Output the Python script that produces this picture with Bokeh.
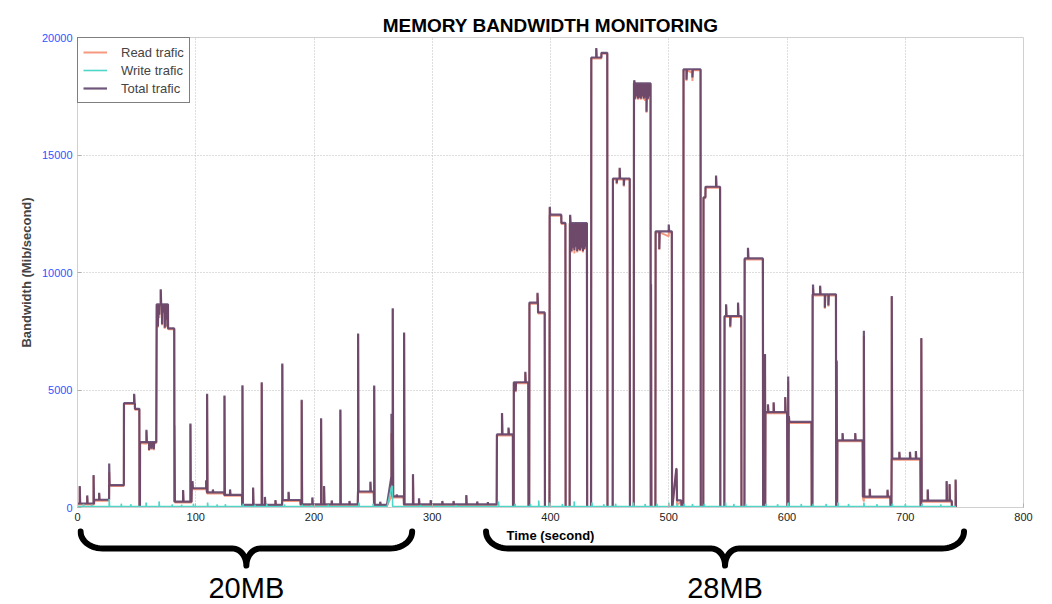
import numpy as np
from bokeh.plotting import figure
from bokeh.layouts import column
from bokeh.models import (Range1d, Legend, LegendItem, FixedTicker)
from bokeh.core.properties import value
from bokeh.embed import file_html
from bokeh.resources import INLINE

# ---------------- data ----------------
X_TICKS = [0, 100, 200, 300, 400, 500, 600, 700, 800]
Y_TICKS = [0, 5000, 10000, 15000, 20000]

# Total traffic plateaus: start (s), end (s), level (Mib/s)
TOTAL_SEG_START = [0, 14, 26.7, 39.3, 48.6, 52.4, 52.9, 67.0, 76.6, 82.0, 96.6, 109.5, 124.2,
                   139.3, 173.1, 188.7, 237.2, 250.8, 265.4, 266.5, 276.1,
                   354.7, 368.3, 369.0, 381.4, 382.2, 389.5, 395.3, 399.3, 409.2, 412.8,
                   416.4, 431.0, 434.5, 443.1, 448.2, 452.8, 467.2, 470.6, 484.8, 488.9,
                   502.8, 506.4, 507.0, 510.8, 512.5, 527.1, 529.4, 531.1, 543.6, 547.2,
                   561.5, 564.2, 579.8, 581.8, 600.3, 601.5, 620.9, 621.7, 641.6, 642.6,
                   664.2, 687.6, 688.5, 713.0, 713.5, 739.5]
TOTAL_SEG_END = [14, 26.7, 39.2, 48.5, 52.3, 52.8, 66.6, 76.5, 81.8, 96.4, 109.3, 124.0, 139.1,
                 173.0, 188.5, 237.0, 250.6, 261.7, 266.3, 275.9, 354.5,
                 368.2, 368.9, 381.2, 382.0, 389.4, 395.1, 399.1, 409.1, 412.6, 416.2,
                 430.8, 434.3, 443.0, 448.0, 452.6, 467.0, 470.4, 484.6, 488.7, 502.6,
                 503.0, 506.6, 510.6, 512.3, 526.9, 529.2, 531.0, 543.4, 547.0, 561.3,
                 564.0, 579.6, 581.6, 600.1, 601.3, 620.7, 621.5, 641.4, 642.4, 664.0,
                 687.4, 688.3, 712.8, 713.3, 739.3, 742.9]
TOTAL_SEG_LEVEL = [170, 330, 950, 4440, 4200, 0, 2780, 8650, 7620, 250, 820, 640, 540,
                   110, 320, 130, 680, 110, 1300, 470, 130,
                   3110, 0, 5330, 0, 8720, 8300, 0, 12460, 12110, 0,
                   12100, 0, 19150, 19350, 0, 14000, 0, 18050, 0, 11750,
                   0, 1650, 300, 0, 18650, 0, 13200, 13650, 0, 8150,
                   0, 10600, 0, 4060, 0, 3640, 0, 9070, 0, 2860,
                   460, 0, 2080, 0, 290, 0]

# Short excursions of total traffic: time (s), value (Mib/s)
TOTAL_SPIKE_T = [1.9, 8.2, 13.6, 18.3, 26.8, 47.9, 58.3, 60.5, 62.5, 64.5,
                 68.0, 69.2, 70.4, 71.5, 72.7, 73.8, 75.0, 76.0, 82.0, 89.3, 95.5,
                 97.2, 108.8, 109.6, 114.5, 124.3, 129.0, 139.5, 148.5, 155.8, 158.5,
                 167.4, 173.2, 178.5, 189.6, 198.6, 206.0, 208.5, 215.0, 222.3, 230.0,
                 237.3, 247.7, 250.9, 256.0, 265.5, 266.6, 270.0, 276.2, 283.7, 288.8,
                 298.7, 308.5, 318.0, 328.8, 338.0, 347.0,
                 359.0, 364.5, 370.5, 378.7, 389.0, 399.4, 416.6, 417.8, 419.0, 420.2,
                 421.4, 422.6, 423.8, 425.0, 426.2, 427.4, 428.6, 429.8, 438.7, 456.0,
                 458.5, 462.0, 470.8, 471.6, 472.8, 474.0, 475.2, 476.4, 477.6, 478.8,
                 480.0, 481.2, 482.4, 483.6, 485.0, 492.0, 500.0, 515.0, 520.0, 540.0,
                 548.5, 552.0, 558.6, 567.0, 581.4, 583.9, 588.7, 598.5, 601.0, 601.6,
                 622.0, 628.0, 632.0, 635.0, 642.0, 647.0, 657.7, 665.0, 670.0, 685.0,
                 688.6, 695.0, 704.0, 709.0, 713.6, 719.0, 735.0, 737.5, 742.6]
TOTAL_SPIKE_V = [910, 515, 1380, 630, 1870, 4840, 3310, 2450, 2500, 2480,
                 7700, 8200, 9290, 7800, 8300, 7650, 8000, 7700, 3500, 740, 3570,
                 1130, 1160, 4840, 770, 4770, 770, 5200, 850, 5330, 450,
                 320, 6130, 670, 4580, 430, 3800, 910, 300, 4170, 280,
                 7400, 1100, 5190, 250, 3990, 8480, 560, 7450, 1420, 390,
                 320, 280, 280, 530, 260, 230,
                 4020, 3400, 4950, 5780, 9140, 12800, 12460, 10900, 11050, 10950,
                 11100, 10900, 11000, 10950, 11050, 10900, 11000, 11100, 19550, 13800,
                 14460, 13700, 18180, 17400, 17500, 17400, 17450, 17400, 17500, 17400,
                 17450, 16840, 17400, 17500, 9500, 11000, 12040, 18200, 18300, 14130,
                 8650, 7700, 8720, 11050, 6530, 4390, 4480, 4700, 5570, 3890,
                 9490, 9440, 8500, 8600, 6250, 3170, 3170, 7520, 800, 760,
                 9000, 2370, 2370, 2400, 7210, 770, 1130, 1000, 1190]

# Write traffic plateaus and bumps
WRITE_SEG_START = [0, 265.8, 266.5]
WRITE_SEG_END = [261.8, 266.3, 743.0]
WRITE_SEG_LEVEL = [40, 900, 45]
WRITE_SPIKE_T = [5, 12, 26.8, 37, 45, 58, 69, 80, 88, 98, 110, 118, 125, 140, 150, 160, 175,
                 190, 198, 212, 238, 250, 290, 320, 356, 370, 383, 390, 399, 410, 420, 435,
                 445, 455, 470, 480, 490, 500, 507, 513, 520, 530, 548, 555, 565, 582, 592,
                 601, 612, 622, 633, 643, 652, 665, 676, 689, 700, 714, 730]
WRITE_SPIKE_V = [150, 120, 360, 160, 140, 210, 260, 130, 120, 160, 210, 130, 140, 160, 120,
                 150, 130, 120, 110, 120, 210, 160, 110, 100, 260, 160, 150, 300, 210, 150,
                 260, 210, 140, 160, 210, 150, 160, 210, 180, 160, 150, 160, 210, 150, 160,
                 160, 140, 210, 150, 160, 150, 210, 150, 210, 140, 160, 150, 160, 130]

# Experiments (seconds on the time axis) and their labels
RUN_LABELS = ["20MB", "28MB"]
RUN_FROM = [2.6, 345.5]
RUN_TO = [283.0, 749.7]


def build_series(starts, ends, levels, spike_t, spike_v, w=0.35):
    xs, ys = [], []
    spikes = sorted(zip(spike_t, spike_v))
    for s, e, lv in zip(starts, ends, levels):
        xs.append(s); ys.append(lv)
        for t, v in spikes:
            if s <= t < e:
                xs += [t, t, min(t + w, e)]
                ys += [lv, v, lv]
        xs.append(e); ys.append(lv)
    return np.array(xs, dtype=float), np.array(ys, dtype=float)


tx, ty = build_series(TOTAL_SEG_START, TOTAL_SEG_END, TOTAL_SEG_LEVEL, TOTAL_SPIKE_T, TOTAL_SPIKE_V)
wx, wy = build_series(WRITE_SEG_START, WRITE_SEG_END, WRITE_SEG_LEVEL, WRITE_SPIKE_T, WRITE_SPIKE_V)
ry = np.maximum(ty - np.interp(tx, wx, wy), 0)

# ---------------- layout constants ----------------
W = 1052
LEFT, RIGHT = 77, 29
FRAME_W = W - LEFT - RIGHT          # 946 px for 800 s
S_PER_PX = 800.0 / FRAME_W
TOP_H, BOT_H = 526, 78
FONT = "Liberation Sans"

# ---------------- main chart ----------------
p = figure(width=W, height=TOP_H, x_range=Range1d(0, 800), y_range=Range1d(0, 20000),
           output_backend="svg", toolbar_location=None,
           min_border_left=LEFT, min_border_right=RIGHT, min_border_top=37, min_border_bottom=TOP_H - 507)
p.title.text = "MEMORY BANDWIDTH MONITORING"
p.title.align = "center"
p.title.text_font = FONT
p.title.text_font_size = "19px"
p.title.text_font_style = "bold"
p.title.text_color = "black"
p.title.standoff = 4

p.outline_line_color = "#d0d0d0"

p.xaxis.ticker = FixedTicker(ticks=X_TICKS)
p.yaxis.ticker = FixedTicker(ticks=Y_TICKS)
p.yaxis.axis_label = "Bandwidth (Mib/second)"
for ax in (p.xaxis, p.yaxis):
    ax.axis_label_text_font = FONT
    ax.axis_label_text_font_style = "bold"
    ax.axis_label_text_font_size = "13px"
    ax.major_label_text_font = FONT
    ax.major_label_text_font_size = "11px"
    ax.axis_line_color = "#d0d0d0"
    ax.major_tick_line_color = "#b0b0b0"
    ax.major_tick_in = 4
    ax.major_tick_out = 0
    ax.minor_tick_line_color = None
    ax.major_label_standoff = 5
    ax.axis_label_standoff = 5
p.yaxis.major_label_text_color = "#2f54ff"
p.xaxis.major_label_text_color = "#222222"

p.grid.grid_line_color = "#bdbdbd"
p.grid.grid_line_dash = "1 2"
p.grid.grid_line_width = 1

r_read = p.line(tx, ry, line_color="#f4937a", line_width=2.0, line_alpha=0.95)
r_total = p.line(tx, ty, line_color="#5b3e66", line_width=2.2, line_alpha=0.88)
r_write = p.line(wx, wy, line_color="#4fd6c8", line_width=1.6)

legend = Legend(items=[LegendItem(label="Read trafic", renderers=[r_read]),
                       LegendItem(label="Write trafic", renderers=[r_write]),
                       LegendItem(label="Total trafic", renderers=[r_total])],
                location="top_left")
legend.margin = 0
legend.padding = 5
legend.spacing = 0
legend.glyph_width = 24
legend.glyph_height = 18
legend.label_height = 18
legend.label_standoff = 14
legend.label_text_font = FONT
legend.label_text_font_size = "13px"
legend.border_line_color = "black"
legend.border_line_width = 1
legend.background_fill_alpha = 1
p.add_layout(legend)

# ---------------- strip under the axis: axis title and experiment braces ----------------
# shares the time axis of the chart; y is in pixels above the page bottom
q = figure(width=W, height=BOT_H, x_range=p.x_range, y_range=Range1d(0, BOT_H),
           output_backend="svg", toolbar_location=None,
           x_axis_location=None, y_axis_location=None,
           min_border_left=LEFT, min_border_right=RIGHT, min_border_top=0, min_border_bottom=0)
q.outline_line_color = None
q.grid.visible = False


def brace_path(a, b, top=73.0, bar=56.0, tip=39.0, hr_px=22.0, cr_px=14.0):
    hr, cr = hr_px * S_PER_PX, cr_px * S_PER_PX
    c = 0.5 * (a + b)
    ph = np.linspace(0, np.pi / 2, 14)
    ph2 = ph[::-1]
    xs = np.concatenate([a + hr * (1 - np.cos(ph)),
                         c - cr + cr * np.sin(ph),
                         c + cr - cr * np.sin(ph2),
                         b - hr * (1 - np.cos(ph2))])
    ys = np.concatenate([top + (bar - top) * np.sin(ph),
                         bar + (tip - bar) * (1 - np.cos(ph)),
                         bar + (tip - bar) * (1 - np.cos(ph2)),
                         top + (bar - top) * np.sin(ph2)])
    return list(xs), list(ys)


bxs, bys = [], []
for a, b in zip(RUN_FROM, RUN_TO):
    xs, ys = brace_path(a, b)
    bxs.append(xs); bys.append(ys)
q.multi_line(bxs, bys, line_color="black", line_width=6, line_cap="round", line_join="round")

mid = [0.5 * (a + b) for a, b in zip(RUN_FROM, RUN_TO)]
q.text(x=mid, y=[17, 17], text=RUN_LABELS, text_align="center", text_baseline="middle",
       text_font=value(FONT), text_font_size="29px", text_color="black")
q.text(x=[400], y=[69], text=["Time (second)"], text_align="center", text_baseline="middle",
       text_font=value(FONT), text_font_size="13px", text_font_style="bold", text_color="black")

layout = column(p, q, spacing=0)
open("out.html", "w").write(file_html(layout, INLINE))
